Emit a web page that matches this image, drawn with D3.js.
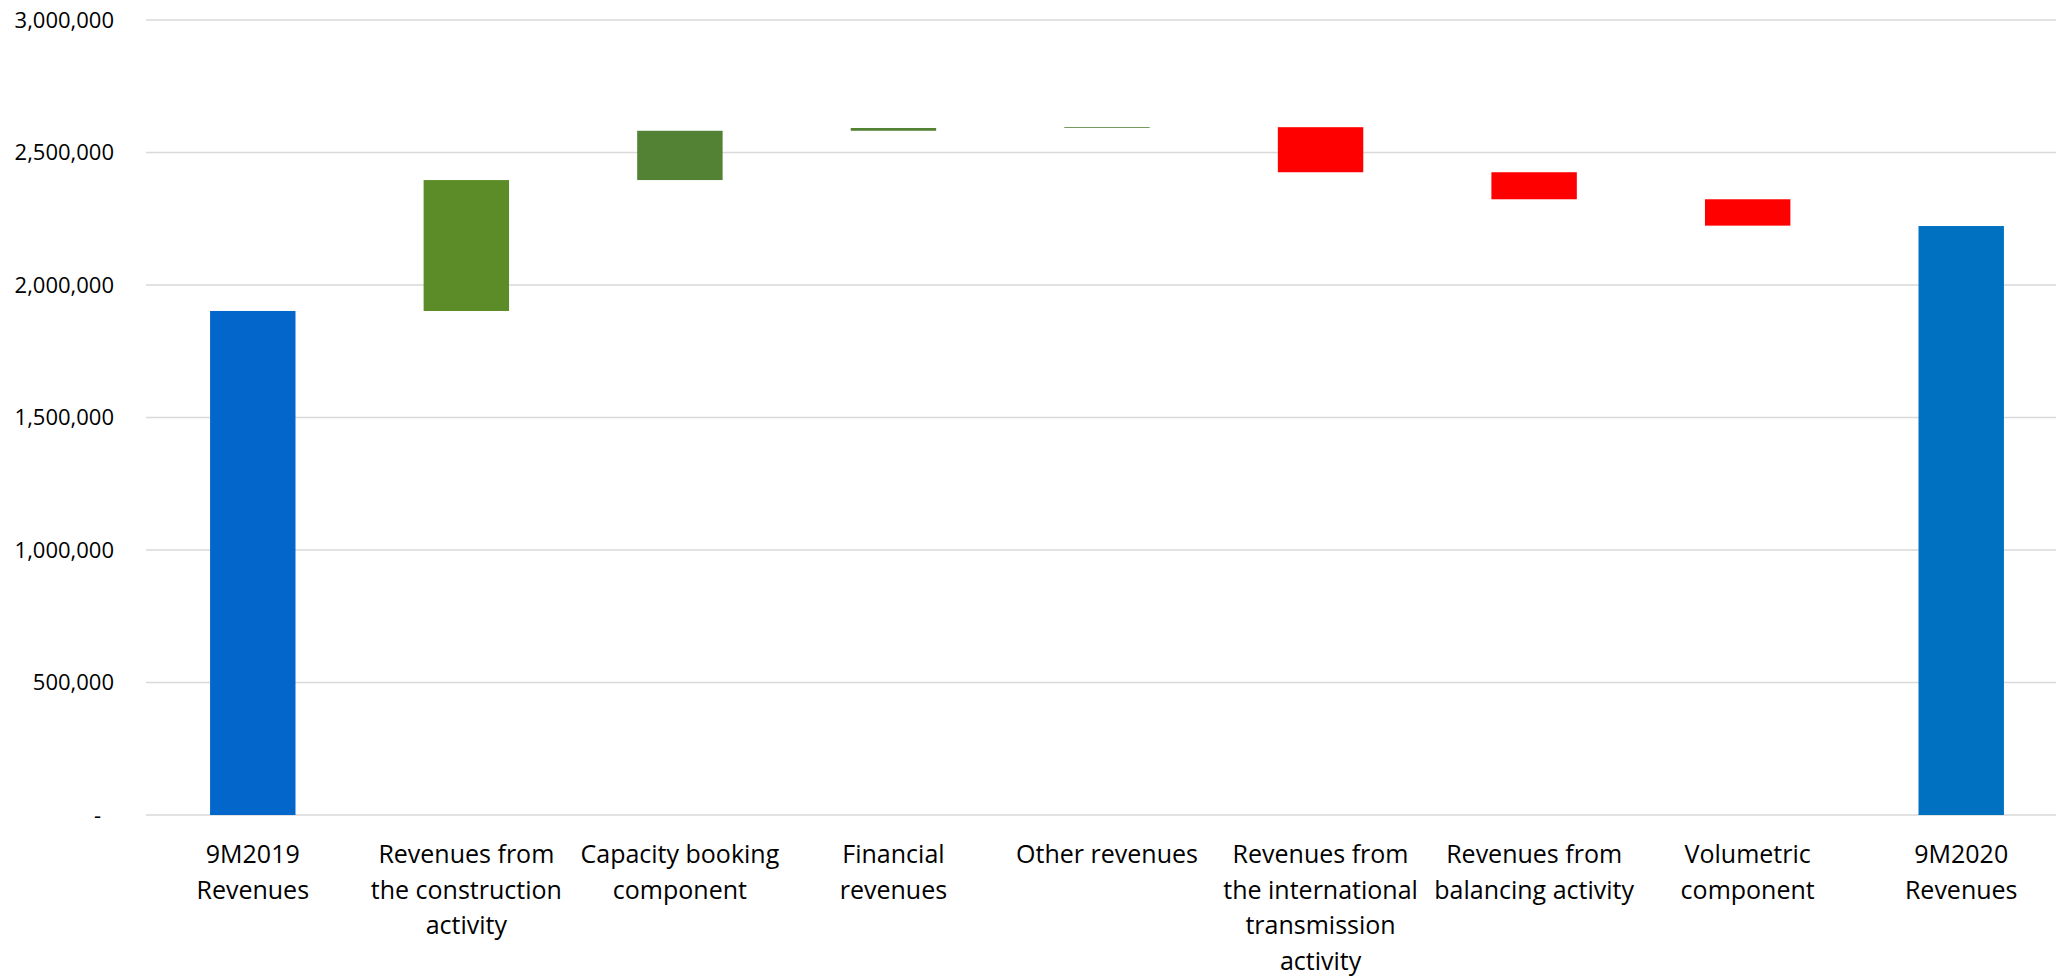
<!DOCTYPE html>
<html>
<head>
<meta charset="utf-8">
<script src="https://cdnjs.cloudflare.com/ajax/libs/d3/7.8.5/d3.min.js"></script>
<style>
  body { margin: 0; background: #fff; }
  #chart text { font-family: "Open Sans", "Noto Sans", sans-serif; fill: #000; }
</style>
</head>
<body>
<div id="chart"></div>
<script>
// categories (line breaks as in the original labels)
var categories = [
  "9M2019\nRevenues",
  "Revenues from\nthe construction\nactivity",
  "Capacity booking\ncomponent",
  "Financial\nrevenues",
  "Other revenues",
  "Revenues from\nthe international\ntransmission\nactivity",
  "Revenues from\nbalancing activity",
  "Volumetric\ncomponent",
  "9M2020\nRevenues"
];
// step values: totals for first/last, deltas in between
var values = [1902000, 494000, 186000, 10500, 3000, -170000, -102000, -99500, 2222500];
var kinds = ["total", "delta", "delta", "delta", "delta", "delta", "delta", "delta", "total"];
var barColors = ["#0366cb", "#5b8c27", "#548235", "#548235", "#548235", "#ff0000", "#ff0000", "#ff0000", "#0070c0"];
var yTicks = [0, 500000, 1000000, 1500000, 2000000, 2500000, 3000000];

(function() {
  var width = 2056,
      height = 976,
      left = 146,
      right = 2068,
      top = 20,
      bottom = 815;

  var svg = d3.select("#chart")
    .append("svg")
    .attr("width", width)
    .attr("height", height);

  var x = d3.scaleBand()
    .domain(categories)
    .range([left, right])
    .paddingInner(0.6)
    .paddingOuter(0.3);

  var y = d3.scaleLinear()
    .domain([0, 3000000])
    .range([bottom, top]);

  // running sum -> start/end of each floating bar
  var running = 0;
  var bars = categories.map(function(c, i) {
    var b;
    if (kinds[i] == "total") {
      b = {cat: c, lo: 0, hi: values[i]};
      running = values[i];
    } else {
      var next = running + values[i];
      b = {cat: c, lo: Math.min(running, next), hi: Math.max(running, next)};
      running = next;
    }
    b.color = barColors[i];
    return b;
  });

  // gridlines
  svg.append("g")
    .selectAll("line")
    .data(yTicks)
    .enter()
    .append("line")
    .attr("x1", left)
    .attr("x2", right)
    .attr("y1", function(d) { return y(d); })
    .attr("y2", function(d) { return y(d); })
    .attr("stroke", "#d9d9d9")
    .attr("stroke-width", 1.5);

  // y axis labels (accounting style, zero shown as "-")
  var fmt = d3.format(",");
  svg.append("g")
    .selectAll("text")
    .data(yTicks)
    .enter()
    .append("text")
    .attr("x", function(d) { return d == 0 ? 101 : 114; })
    .attr("y", function(d) { return y(d); })
    .attr("dy", "0.35em")
    .attr("text-anchor", "end")
    .style("font-size", "22px")
    .text(function(d) { return d == 0 ? "-" : fmt(d); });

  // bars
  svg.append("g")
    .selectAll("rect")
    .data(bars)
    .enter()
    .append("rect")
    .attr("x", function(d) { return x(d.cat); })
    .attr("width", x.bandwidth())
    .attr("y", function(d) { return y(d.hi); })
    .attr("height", function(d) { return y(d.lo) - y(d.hi); })
    .attr("fill", function(d) { return d.color; });

  // category labels
  var labels = svg.append("g")
    .selectAll("text")
    .data(categories)
    .enter()
    .append("text")
    .attr("text-anchor", "middle")
    .style("font-size", "25px")
    .attr("transform", function(d) {
      return "translate(" + (x(d) + x.bandwidth() / 2) + ",863)";
    });

  labels.selectAll("tspan")
    .data(function(d) { return d.split("\n"); })
    .enter()
    .append("tspan")
    .attr("x", 0)
    .attr("y", function(d, i) { return i * 35.5; })
    .text(function(d) { return d; });
})();
</script>
</body>
</html>
